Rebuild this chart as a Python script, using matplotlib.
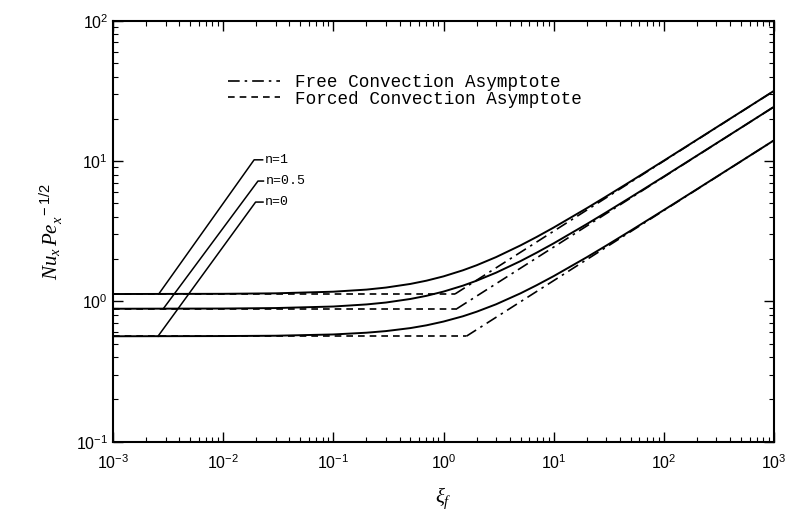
import matplotlib
matplotlib.use("Agg")
from matplotlib import pyplot as plt

plt.rcParams['font.family'] = ['Liberation Sans', 'DejaVu Sans']
plt.rcParams['mathtext.fontset'] = 'custom'
plt.rcParams['mathtext.rm'] = 'Liberation Sans'
plt.rcParams['mathtext.it'] = 'Liberation Serif:italic'

# values
xi = [1e-3, 1e-2, 0.03, 0.1, 0.2, 0.3, 0.5, 0.7, 1, 1.5, 2, 3, 5, 7,
      10, 20, 30, 50, 100, 200, 500, 1000]
nu_n1 = [1.128, 1.132, 1.141, 1.172, 1.213, 1.254, 1.331, 1.404, 1.507,
         1.665, 1.809, 2.067, 2.505, 2.876, 3.358, 4.613, 5.593, 7.16,
         10.06, 14.19, 22.39, 31.64]
nu_n05 = [0.886, 0.889, 0.896, 0.919, 0.951, 0.981, 1.040, 1.095, 1.174,
          1.294, 1.404, 1.601, 1.936, 2.222, 2.591, 3.556, 4.310, 5.517,
          7.751, 10.93, 17.24, 24.37]
nu_n0 = [0.564, 0.566, 0.569, 0.581, 0.598, 0.614, 0.645, 0.675, 0.718,
         0.783, 0.844, 0.953, 1.141, 1.303, 1.513, 2.064, 2.496, 3.189,
         4.474, 6.302, 9.941, 14.05]

# asymptotes: forced (flat) up to the crossing, free (slope 1/2) after
forced_x = {'1': [1e-3, 1.27], '0.5': [1e-3, 1.32], '0': [1e-3, 1.61]}
forced_y = {'1': [1.128, 1.128], '0.5': [0.886, 0.886], '0': [0.564, 0.564]}
free_x = {'1': [1.27, 1000], '0.5': [1.32, 1000], '0': [1.61, 1000]}
free_y = {'1': [1.128, 31.6], '0.5': [0.886, 24.35], '0': [0.564, 14.04]}

# leader lines for the curve labels
labels = ['n=1', 'n=0.5', 'n=0']
lead_x = [[2.6e-3, 0.0191, 0.0228], [2.86e-3, 0.0207, 0.0232], [2.56e-3, 0.0197, 0.0230]]
lead_y = [[1.128, 10.2, 10.2], [0.886, 7.2, 7.2], [0.564, 5.1, 5.1]]

fig = plt.figure(figsize=(7.86, 5.11), dpi=100)
ax = fig.add_axes([113 / 786, 1 - 441.7 / 511, 661 / 786, 421 / 511])

for y in (nu_n1, nu_n05, nu_n0):
    ax.plot(xi, y, color='black', lw=1.4)

first = True
for k in ('1', '0.5', '0'):
    ax.plot(free_x[k], free_y[k], color='black', lw=1.2, linestyle=(0, (7, 3, 1.5, 3)),
            label='Free Convection Asymptote' if first else None)
    ax.plot(forced_x[k], forced_y[k], color='black', lw=1.2, linestyle=(0, (4, 3)),
            label='Forced Convection Asymptote' if first else None)
    first = False

for lab, lx, ly in zip(labels, lead_x, lead_y):
    ax.plot(lx, ly, color='black', lw=1.1)
    ax.text(lx[-1] * 1.04, ly[-1], lab, fontsize=9.5, va='center', ha='left',
            family='Liberation Mono')

ax.set_xscale('log')
ax.set_yscale('log')
ax.set_xlim(1e-3, 1e3)
ax.set_ylim(1e-1, 1e2)

ax.set_xticks([1e-3, 1e-2, 1e-1, 1e0, 1e1, 1e2, 1e3])
ax.set_xticklabels([r'$\mathregular{10^{%d}}$' % p for p in range(-3, 4)])
ax.set_yticks([1e-1, 1e0, 1e1, 1e2])
ax.set_yticklabels([r'$\mathregular{10^{%d}}$' % p for p in range(-1, 3)])
ax.tick_params(which='both', direction='in', top=True, right=True, labelsize=11.5)
ax.tick_params(which='major', length=7, width=1)
ax.tick_params(which='minor', length=3.5, width=0.8)
ax.tick_params(axis='x', pad=8)
for s in ax.spines.values():
    s.set_linewidth(1.5)

ax.set_xlabel(r'$\xi_f$', fontsize=15, labelpad=10)
ax.set_ylabel(r'$Nu_x\,Pe_x^{\;\;-1/2}$', fontsize=15, labelpad=8)

leg = ax.legend(loc='upper left', bbox_to_anchor=(0.150, 0.910), frameon=False,
                handlelength=2.95, handletextpad=0.85, labelspacing=-0.05,
                prop={'family': 'Liberation Mono', 'size': 12.7})

fig.savefig('out.png', dpi=100)
